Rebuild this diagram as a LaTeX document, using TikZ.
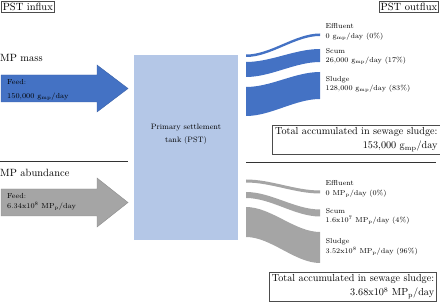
\documentclass[tikz,border=0pt]{standalone}
\usepackage{fontspec}
\definecolor{massblue}{HTML}{4472C4}
\definecolor{tankblue}{HTML}{B4C7E7}
\definecolor{countgrey}{HTML}{A5A5A5}
\tikzset{
  headbox/.style={draw=black!70,line width=0.6pt,inner sep=1.5pt,font=\fontsize{10.5}{12}\selectfont},
  sectitle/.style={inner sep=0pt,font=\fontsize{10.5}{12}\selectfont},
  feedtext/.style={inner sep=0pt,align=left,font=\fontsize{7.3}{10}\selectfont},
  flowlabel/.style={inner sep=0pt,align=left,font=\fontsize{7.2}{9.5}\selectfont},
  tanktext/.style={inner sep=0pt,align=center,font=\fontsize{7.8}{13}\selectfont},
  totalbox/.style={draw=black!70,line width=0.6pt,inner sep=2.5pt,align=right,font=\fontsize{10.2}{14}\selectfont},
  divider/.style={draw=black!80,line width=0.9pt}
}
\begin{document}
\begin{tikzpicture}[x=1pt,y=-1pt]
\useasboundingbox (0,0) rectangle (440,302);
\node[headbox,anchor=north west] (influx) at (1,1) {PST influx};
\node[headbox,anchor=north east] (outflux) at (439,1.5) {PST outflux};
% settlement tank
\fill[tankblue] (134,55) rectangle (238,240);
\node[tanktext] (tank) at (186,134.5) {Primary settlement\\tank (PST)};
% mass
\node[sectitle,anchor=west] (masstitle) at (0,58) {MP mass};
\fill[massblue,draw=massblue!85!black,line width=0.4pt]
  (1,75) -- (97,75) -- (97,65) -- (128,88.5) -- (97,112) -- (97,102) -- (1,102) -- cycle;
\node[feedtext,anchor=west] (feedmass) at (7,89.5) {Feed:\\[4pt]150,000 g\textsubscript{mp}/day};
\foreach \lt/\lb/\rt/\rb in {54.5/57/33.5/36, 62/77/49/62, 87/116/72/99}{
  \fill[massblue] (246,\lt) .. controls (271,\lt) and (295,\rt) .. (320,\rt)
    -- (320,\rb) .. controls (295,\rb) and (271,\lb) .. (246,\lb) -- cycle;
}
\node[flowlabel,anchor=west] (effmass) at (325.5,32) {Effluent\\0 g\textsubscript{mp}/day (0\%)};
\node[flowlabel,anchor=west] (scummass) at (325.5,56.5) {Scum\\26,000 g\textsubscript{mp}/day (17\%)};
\node[flowlabel,anchor=west] (sludgemass) at (325.5,84.5) {Sludge\\128,000 g\textsubscript{mp}/day (83\%)};
\node[totalbox,anchor=north east] (totalmass) at (440.3,125) {Total accumulated in sewage sludge:\\153,000 g\textsubscript{mp}/day};
% dividers
\draw[divider] (0,161) -- (128,161);
\draw[divider] (246,162) -- (436,162);
% abundance
\node[sectitle,anchor=west] (abundtitle) at (0,173) {MP abundance};
\fill[countgrey,draw=countgrey!85!black,line width=0.4pt]
  (1,189) -- (97,189) -- (97,178) -- (128,202.5) -- (97,227) -- (97,216) -- (1,216) -- cycle;
\node[feedtext,anchor=west] (feedcount) at (7,202) {Feed:\\6.34x10\textsuperscript{8} MP\textsubscript{p}/day};
\foreach \lt/\lb/\rt/\rb in {179.5/182.5/190.5/193.5, 192/198/209.5/216.5, 207/237/232/263}{
  \fill[countgrey] (246,\lt) .. controls (271,\lt) and (295,\rt) .. (320,\rt)
    -- (320,\rb) .. controls (295,\rb) and (271,\lb) .. (246,\lb) -- cycle;
}
\node[flowlabel,anchor=west] (effcount) at (325.5,189) {Effluent\\0 MP\textsubscript{p}/day (0\%)};
\node[flowlabel,anchor=west] (scumcount) at (325.5,216.5) {Scum\\1.6x10\textsuperscript{7} MP\textsubscript{p}/day (4\%)};
\node[flowlabel,anchor=west] (sludgecount) at (325.5,247) {Sludge\\3.52x10\textsuperscript{8} MP\textsubscript{p}/day (96\%)};
\node[totalbox,anchor=north east] (totalcount) at (437,272) {Total accumulated in sewage sludge:\\3.68x10\textsuperscript{8} MP\textsubscript{p}/day};
\end{tikzpicture}
\end{document}
